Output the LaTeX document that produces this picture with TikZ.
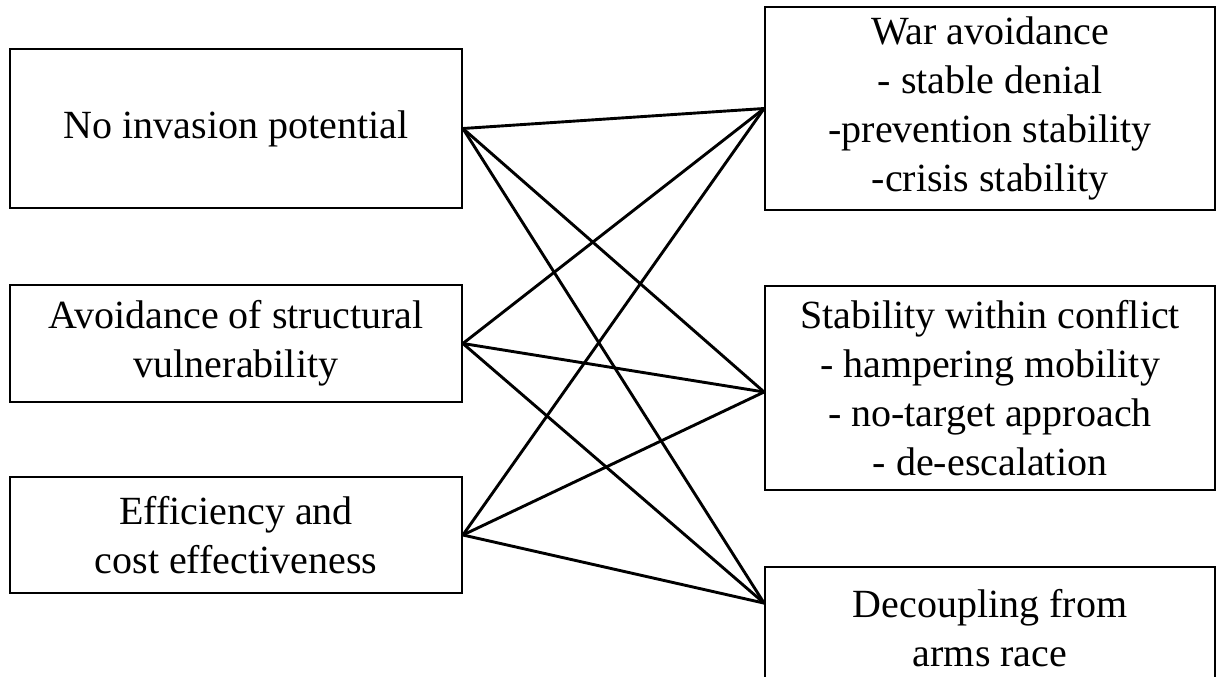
\documentclass[tikz,border=0pt]{standalone}
\usepackage{fontspec}
\setmainfont{Liberation Serif}
\begin{document}
\begin{tikzpicture}[x=1pt,y=-1pt,
  box/.style={draw, line width=1.8pt, align=center, inner sep=0pt,
    font=\fontsize{40}{49}\selectfont, minimum width=#1},
  box/.default=452pt,
  link/.style={line width=2.9pt, line cap=round}]
\useasboundingbox (0,0) rectangle (1216,677);
\node[box, minimum height=159pt] (L1) at (236,128.5) {No invasion potential};
\node[box, minimum height=117pt] (L2) at (236,343.5) {Avoidance of structural\\vulnerability};
\node[box, minimum height=116pt] (L3) at (236,535) {Efficiency and\\cost effectiveness};
\node[box=450pt, minimum height=203pt] (R1) at (990,108.5) {War avoidance\\- stable denial\\-prevention stability\\-crisis stability};
\node[box=450pt, minimum height=204pt] (R2) at (990,388) {Stability within conflict\\- hampering mobility\\- no-target approach\\- de-escalation};
\node[box=450pt, minimum height=123pt] (R3) at (990,628.5) {Decoupling from\\arms race};
\coordinate (r1in) at (R1.west);
\coordinate (r2in) at ([yshift=-4pt]R2.west);
\coordinate (r3in) at ([yshift=-37pt]R3.north west);
\foreach \l in {L1,L2,L3}{
  \foreach \r in {r1in,r2in,r3in}{
    \draw[link] (\l.east) -- (\r);
  }
}
\end{tikzpicture}
\end{document}
